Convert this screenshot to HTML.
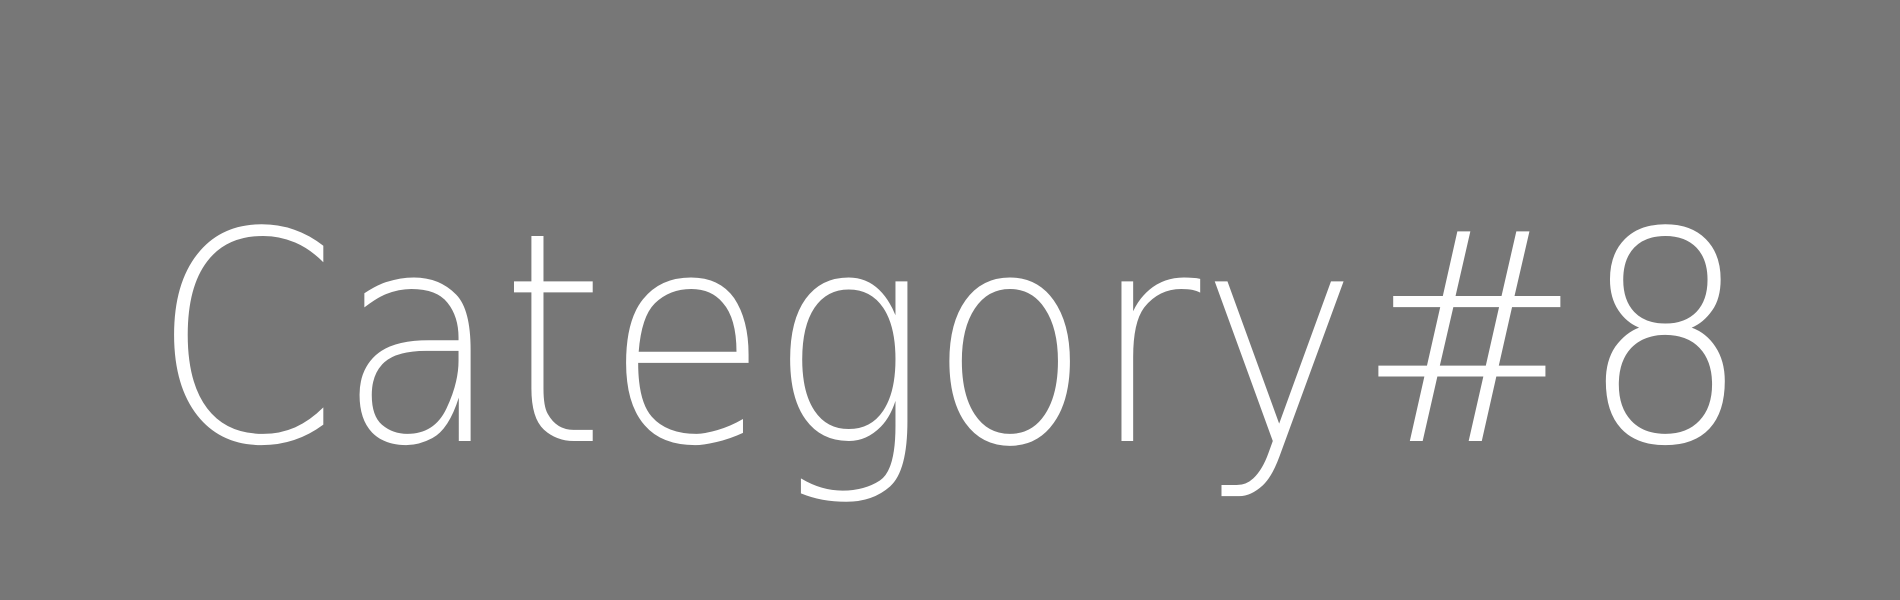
<!DOCTYPE html>
<html>
<head>
<meta charset="utf-8">
<style>
  html, body { margin: 0; padding: 0; }
  body { width: 1900px; height: 600px; background: #777777; overflow: hidden; }
  svg { display: block; }
</style>
</head>
<body>
<svg width="1900" height="600" viewBox="0 0 1900 600">
  <rect x="0" y="0" width="1900" height="600" fill="#777777"/>
  <text x="152" y="441" textLength="1598" lengthAdjust="spacingAndGlyphs" fill="#ffffff"
        font-family="'DejaVu Sans', 'Liberation Sans', sans-serif" font-weight="200" font-size="292"
       >Category#8</text>
</svg>
</body>
</html>
